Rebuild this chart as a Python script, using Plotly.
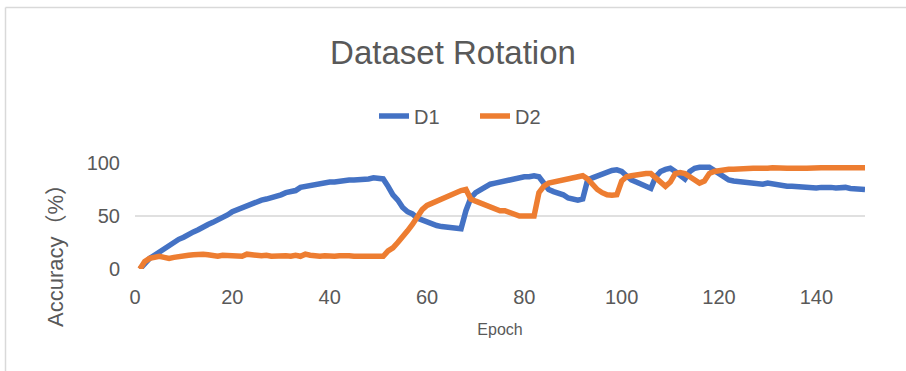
import plotly.graph_objects as go

epochs = list(range(1, 151))

d1 = [0, 5, 10, 13, 16, 19, 22, 26, 28, 30,
      33, 35, 37, 40, 42, 44, 46, 48, 51, 54,
      56, 57, 60, 62, 64, 65, 66, 67, 68, 70,
      72, 73, 74, 77, 78, 79, 80, 80, 81, 82,
      82, 83, 83, 84, 84, 84, 85, 85, 86, 86,
      85, 78, 70, 65, 58, 54, 52, 48, 46, 44,
      42, 41, 40, 39.5, 39, 38.5, 38, 55, 67, 72,
      75, 77, 80, 81, 82, 83, 85, 86, 86, 87,
      87, 88, 87, 80, 75, 73, 72, 70, 67, 66,
      65, 66, 84, 86, 88, 90, 92, 93, 93.5, 92,
      88, 84, 82, 80, 78, 76, 87, 92, 94, 95,
      92, 88, 85, 92, 95, 96, 96.5, 96, 93, 90,
      87, 84, 83, 82.5, 82, 81, 80.5, 80, 80, 81,
      80, 79, 78, 78, 78, 77.5, 78, 77.5, 77, 76.5,
      77, 77.5, 77, 76.5, 77, 77, 76, 75.5, 75, 75]

d2 = [0, 7, 10, 11, 12, 11, 10, 11, 12, 13,
      13, 13.5, 14, 14, 13.5, 13, 12, 13, 13, 12.5,
      13, 12, 14, 13, 13, 12.5, 13, 12, 12.5, 12,
      12.5, 12, 13, 12, 14, 13, 12, 12, 12.5, 12,
      12, 12.5, 13, 12.5, 12, 12, 11.5, 11, 11.5, 11.5,
      12, 17, 20, 25, 30, 36, 42, 50, 56, 60,
      62, 65, 67, 69, 71, 73, 74, 75, 66, 64,
      62, 60, 58, 56, 55, 55, 53, 52, 50, 50,
      49.5, 50, 72, 78, 81, 82, 84, 85, 85.5, 86,
      87, 88, 85, 79, 75, 72, 70, 69.5, 70, 83,
      87, 88, 89, 89.5, 90, 90, 86, 81, 78, 82,
      90, 91, 90, 87, 84, 81, 83, 90, 92, 93,
      93.5, 94, 94, 94.5, 94.5, 94.5, 95, 95, 94.5, 95,
      95.5, 95, 95, 95, 95, 95.5, 95, 95, 95.5, 95.5,
      95.5, 95.5, 95, 95.5, 95.5, 95.5, 95.5, 95.5, 95.5, 95.5]

series_names = ["D1", "D2"]
colors = ["#4472C4", "#ED7D31"]
y_ticks = [0, 50, 100]
x_ticks = [0, 20, 40, 60, 80, 100, 120, 140]

FONT = "Liberation Sans, Arial, Noto Sans CJK SC"
GRAY = "#595959"

fig = go.Figure()
for name, vals, col in zip(series_names, [d1, d2], colors):
    fig.add_trace(go.Scatter(x=epochs, y=vals, mode="lines", name=name,
                             line=dict(color=col, width=5.5)))

W, H = 906, 371
L, R, T, B = 135, 41, 163, 102
pw, ph = W - L - R, H - T - B

def px_to_paper_x(px):
    return (px - L) / pw

def px_to_paper_y(py):
    return (H - B - py) / ph

fig.update_layout(
    width=W, height=H,
    margin=dict(l=L, r=R, t=T, b=B, pad=0),
    paper_bgcolor="white", plot_bgcolor="white",
    font=dict(family=FONT, color=GRAY),
    title=dict(text="Dataset Rotation", x=0.5, xref="container", xanchor="center",
               y=1 - 52 / H, yref="container", yanchor="middle",
               font=dict(size=33, color=GRAY)),
    legend=dict(orientation="h", x=374 / W, xref="container", xanchor="left",
                y=1 - 116 / H, yref="container", yanchor="middle",
                font=dict(size=20, color=GRAY), entrywidth=56, entrywidthmode="pixels"),
    xaxis=dict(range=[0, 150], tickvals=x_ticks, showgrid=False, zeroline=False,
               showline=False, ticks="", tickfont=dict(size=20, color=GRAY),
               ticklabelstandoff=14,
               title=dict(text="Epoch", font=dict(size=16, color=GRAY), standoff=16)),
    yaxis=dict(range=[0, 100], tickvals=y_ticks, showgrid=True, gridcolor="#E0E0E0",
               gridwidth=2, zeroline=False, showline=False, ticks="",
               tickfont=dict(size=20, color=GRAY), ticklabelstandoff=14),
    annotations=[
        dict(text="Accuracy（%）", xref="paper", yref="paper",
             x=px_to_paper_x(55), y=px_to_paper_y(250), xanchor="center", yanchor="middle",
             textangle=-90, showarrow=False, font=dict(size=22, color=GRAY)),
    ],
    shapes=[
        dict(type="line", xref="paper", yref="paper",
             x0=px_to_paper_x(5.5), x1=px_to_paper_x(5.5),
             y0=px_to_paper_y(7.5), y1=px_to_paper_y(380),
             line=dict(color="#D9D9D9", width=1.5)),
        dict(type="line", xref="paper", yref="paper",
             x0=px_to_paper_x(5.5), x1=px_to_paper_x(920),
             y0=px_to_paper_y(7.5), y1=px_to_paper_y(7.5),
             line=dict(color="#D9D9D9", width=1.5)),
    ],
)

fig.write_html("out.html")
